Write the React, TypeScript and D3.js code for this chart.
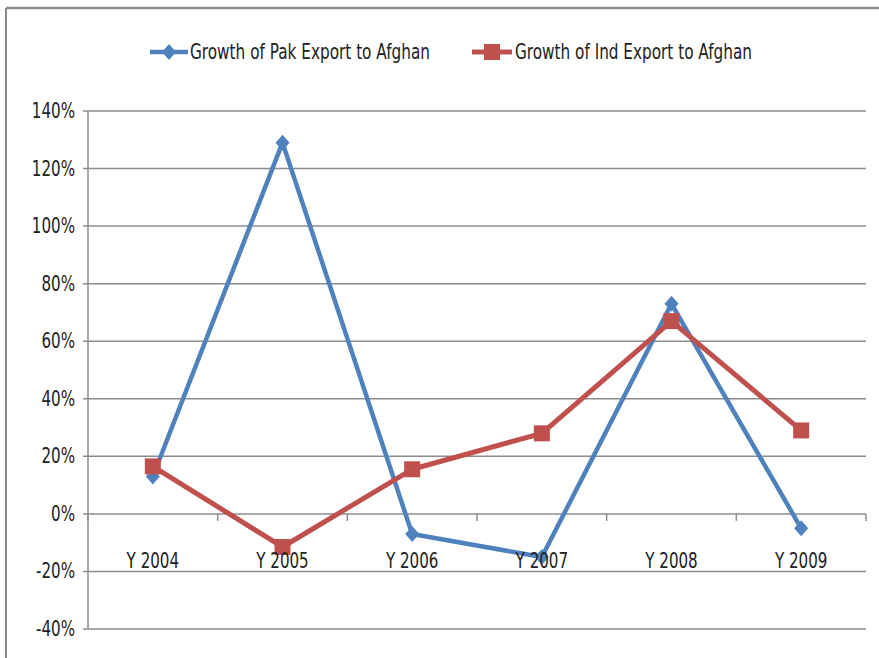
import { scaleBand, scaleLinear, line } from 'd3'

const categories = ['Y 2004', 'Y 2005', 'Y 2006', 'Y 2007', 'Y 2008', 'Y 2009']
const pakGrowth = [13, 129, -7, -15, 73, -5]
const indGrowth = [16.5, -11.5, 15.5, 28, 67, 29]
const yTickValues = [-40, -20, 0, 20, 40, 60, 80, 100, 120, 140]
const seriesNames = ['Growth of Pak Export to Afghan', 'Growth of Ind Export to Afghan']

const width = 879
const height = 658
const plot = { left: 88, right: 866, top: 111, bottom: 629 }
const font = '"DejaVu Sans Condensed", "Liberation Sans Narrow", sans-serif'
const blue = '#4F81BD'
const red = '#C0504D'
const grid = '#8C8C8C'
const squeeze = 0.8

// narrow text, like the squeezed Calibri of the original
function Label({ x, y, anchor = 'start', children }: { x: number; y: number; anchor?: string; children: string }) {
  return (
    <text
      transform={`translate(${x},${y}) scale(${squeeze},1)`}
      textAnchor={anchor}
      fontSize={21}
      fill="#222"
    >
      {children}
    </text>
  )
}

export default function App() {
  const x = scaleBand().domain(categories).range([plot.left, plot.right])
  const y = scaleLinear().domain([-40, 140]).range([plot.bottom, plot.top])
  const cx = (c: string) => (x(c) ?? 0) + x.bandwidth() / 2

  const path = line<number>()
    .x((_, i) => cx(categories[i]))
    .y((d) => y(d))

  const diamond = (px: number, py: number, r: number) =>
    `M${px},${py - r - 1}L${px + r},${py}L${px},${py + r + 1}L${px - r},${py}Z`

  return (
    <svg
      width={width}
      height={height}
      style={{ position: 'absolute', left: 0, top: 0, background: '#fff' }}
      fontFamily={font}
    >
      {/* outer frame */}
      <line x1={6} x2={width} y1={8} y2={8} stroke="#8a8a8a" strokeWidth={2.5} />
      <line x1={6} x2={6} y1={8} y2={height} stroke="#8a8a8a" strokeWidth={2} />

      {/* legend */}
      <g>
        <line x1={150} x2={188} y1={52} y2={52} stroke={blue} strokeWidth={4.5} />
        <path d={diamond(169, 52, 7)} fill={blue} />
        <text x={190} y={59} fontSize={21} fill="#222" textLength={240} lengthAdjust="spacingAndGlyphs">
          {seriesNames[0]}
        </text>
        <line x1={472} x2={512} y1={52} y2={52} stroke={red} strokeWidth={5} />
        <rect x={484} y={44} width={16} height={16} fill={red} />
        <text x={515} y={59} fontSize={21} fill="#222" textLength={237} lengthAdjust="spacingAndGlyphs">
          {seriesNames[1]}
        </text>
      </g>

      {/* gridlines and y labels */}
      {yTickValues.map((t) => (
        <g key={t}>
          <line x1={plot.left - 5} x2={plot.right} y1={y(t)} y2={y(t)} stroke={grid} strokeWidth={1.5} />
          <Label x={75} y={y(t) + 7} anchor="end">{`${t}%`}</Label>
        </g>
      ))}
      <line x1={plot.left} x2={plot.left} y1={plot.top} y2={plot.bottom} stroke={grid} strokeWidth={1.5} />

      {/* category ticks on the zero line */}
      {categories.map((c) => (
        <line
          key={`t-${c}`}
          x1={(x(c) ?? 0) + x.bandwidth()}
          x2={(x(c) ?? 0) + x.bandwidth()}
          y1={y(0)}
          y2={y(0) + 7}
          stroke={grid}
          strokeWidth={1.5}
        />
      ))}
      <line x1={plot.left} x2={plot.left} y1={y(0)} y2={y(0) + 7} stroke={grid} strokeWidth={1.5} />

      {/* Pak series */}
      <path d={path(pakGrowth) ?? ''} fill="none" stroke={blue} strokeWidth={4.5} strokeLinejoin="round" />
      {pakGrowth.map((v, i) => (
        <path key={`p-${i}`} d={diamond(cx(categories[i]), y(v), 7)} fill={blue} />
      ))}

      {/* Ind series */}
      <path d={path(indGrowth) ?? ''} fill="none" stroke={red} strokeWidth={5} strokeLinejoin="round" />
      {indGrowth.map((v, i) => (
        <rect key={`r-${i}`} x={cx(categories[i]) - 8} y={y(v) - 8} width={16} height={16} fill={red} />
      ))}

      {/* category labels */}
      {categories.map((c) => (
        <Label key={`l-${c}`} x={cx(c)} y={568} anchor="middle">{c}</Label>
      ))}
    </svg>
  )
}
